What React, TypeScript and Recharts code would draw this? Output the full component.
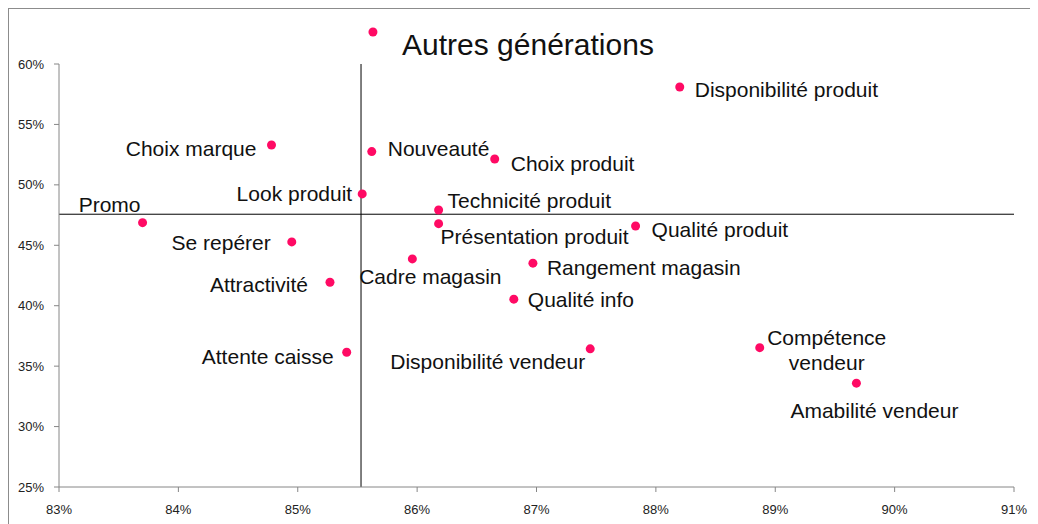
import React from 'react';
import { ScatterChart, Scatter, XAxis, YAxis, ReferenceLine, ReferenceDot } from 'recharts';

// critère, satisfaction (x, %) et importance (y, %)
const criteres = [
  'Disponibilité produit',
  'Choix marque',
  'Nouveauté',
  'Choix produit',
  'Look produit',
  'Technicité produit',
  'Présentation produit',
  'Promo',
  'Se repérer',
  'Qualité produit',
  'Cadre magasin',
  'Rangement magasin',
  'Attractivité',
  'Qualité info',
  'Attente caisse',
  'Disponibilité vendeur',
  'Compétence\nvendeur',
  'Amabilité vendeur',
];
const satisfaction = [88.2, 84.78, 85.62, 86.65, 85.54, 86.18, 86.18, 83.7, 84.95, 87.83, 85.96, 86.97, 85.27, 86.81, 85.41, 87.45, 88.87, 89.68];
const importance = [58.1, 53.3, 52.75, 52.14, 49.25, 47.92, 46.79, 46.87, 45.28, 46.6, 43.87, 43.52, 41.94, 40.54, 36.15, 36.43, 36.53, 33.59];

// point sans étiquette, au-dessus du cadre
const horsCadreX = 85.63;
const horsCadreY = 62.65;

// moyennes (axes du quadrant)
const moyenneX = 85.53;
const moyenneY = 47.57;

const xTicks = [83, 84, 85, 86, 87, 88, 89, 90, 91];
const yTicks = [25, 30, 35, 40, 45, 50, 55, 60];

const data = criteres.map((name, i) => ({ name, x: satisfaction[i], y: importance[i] }));

// where each label sits relative to its dot
const labelPos: Record<string, { dx: number; dy: number; anchor: 'start' | 'middle' | 'end' }> = {
  'Disponibilité produit': { dx: 15, dy: 2, anchor: 'start' },
  'Choix marque': { dx: -15, dy: 3, anchor: 'end' },
  'Nouveauté': { dx: 16, dy: -4, anchor: 'start' },
  'Choix produit': { dx: 16, dy: 4, anchor: 'start' },
  'Look produit': { dx: -10, dy: -1, anchor: 'end' },
  'Technicité produit': { dx: 9, dy: -10, anchor: 'start' },
  'Présentation produit': { dx: 2, dy: 12, anchor: 'start' },
  'Promo': { dx: -33, dy: -19, anchor: 'middle' },
  'Se repérer': { dx: -21, dy: 0, anchor: 'end' },
  'Qualité produit': { dx: 16, dy: 3, anchor: 'start' },
  'Cadre magasin': { dx: 18, dy: 17, anchor: 'middle' },
  'Rangement magasin': { dx: 14, dy: 4, anchor: 'start' },
  'Attractivité': { dx: -22, dy: 2, anchor: 'end' },
  'Qualité info': { dx: 14, dy: 0, anchor: 'start' },
  'Attente caisse': { dx: -13, dy: 4, anchor: 'end' },
  'Disponibilité vendeur': { dx: -5, dy: 12, anchor: 'end' },
  'Compétence\nvendeur': { dx: 67, dy: -11, anchor: 'middle' },
  'Amabilité vendeur': { dx: 18, dy: 27, anchor: 'middle' },
};

const FONT = '"Liberation Sans", Arial, sans-serif';
const PINK = '#ff0a64';

const DotWithLabel = (props: any) => {
  const { cx, cy, payload } = props;
  const pos = labelPos[payload.name] || { dx: 10, dy: 0, anchor: 'start' };
  const lines = String(payload.name).split('\n');
  return (
    <g>
      <circle cx={cx} cy={cy} r={4.5} fill={PINK} />
      <text
        x={cx + pos.dx}
        y={cy + pos.dy}
        textAnchor={pos.anchor}
        dominantBaseline="central"
        fontSize={21}
        fontFamily={FONT}
        fill="#111"
      >
        {lines.map((l, i) => (
          <tspan key={i} x={cx + pos.dx} dy={i === 0 ? 0 : 25}>
            {l}
          </tspan>
        ))}
      </text>
    </g>
  );
};

const tickStyle = { fill: '#222', fontSize: 13, fontFamily: FONT };

export default function App() {
  return (
    <div
      style={{
        position: 'relative',
        width: 1030,
        height: 516,
        borderLeft: '1px solid #8c8c8c',
        borderTop: '1px solid #8c8c8c',
        fontFamily: FONT,
      }}
    >
      <div
        style={{
          position: 'absolute',
          left: 319,
          top: 18,
          width: 400,
          lineHeight: '36px',
          fontSize: 30,
          textAlign: 'center',
          color: '#111',
        }}
      >
        Autres générations
      </div>
      <ScatterChart width={1029} height={515} margin={{ top: 55, right: 24, bottom: 7, left: 0 }}>
        <XAxis
          type="number"
          dataKey="x"
          domain={[83, 91]}
          ticks={xTicks}
          tickFormatter={(v) => `${v}%`}
          tick={tickStyle}
          stroke="#868686"
          tickSize={5}
          tickMargin={13}
          height={30}
        />
        <YAxis
          type="number"
          dataKey="y"
          domain={[25, 60]}
          ticks={yTicks}
          tickFormatter={(v) => `${v}%`}
          tick={tickStyle}
          stroke="#868686"
          tickSize={5}
          tickMargin={10}
          width={50}
        />
        <ReferenceLine x={moyenneX} stroke="#000" strokeWidth={1} />
        <ReferenceLine y={moyenneY} stroke="#000" strokeWidth={1} />
        <Scatter data={data} shape={DotWithLabel} isAnimationActive={false} />
        <ReferenceDot x={horsCadreX} y={horsCadreY} r={4.5} fill={PINK} stroke="none" ifOverflow="visible" />
      </ScatterChart>
    </div>
  );
}
